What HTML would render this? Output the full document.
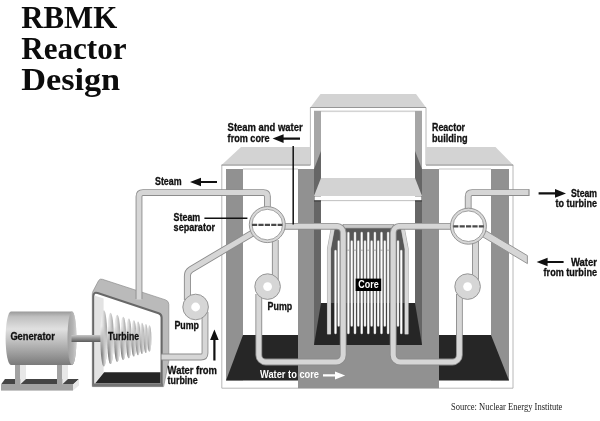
<!DOCTYPE html>
<html lang="en">
<head>
<meta charset="utf-8">
<title>RBMK Reactor Design</title>
<style>
html,body{margin:0;padding:0;background:#fff;}
body{width:600px;height:421px;overflow:hidden;}
svg{display:block;will-change:transform;}
.lbl{font-family:"Liberation Sans","DejaVu Sans",sans-serif;font-weight:bold;font-size:10.3px;fill:#111;stroke:#111;stroke-width:0.3px;}
.ttl{font-family:"Liberation Serif","DejaVu Serif",serif;font-weight:bold;font-size:31.4px;fill:#0c0c0c;}
.src{font-family:"Liberation Serif","DejaVu Serif",serif;font-size:10px;fill:#222;}
.po{fill:none;stroke:#8c8c8c;stroke-width:6.8;stroke-linejoin:round;}
.pi{fill:none;stroke:#d6d6d6;stroke-width:5;stroke-linejoin:round;}
</style>
</head>
<body>
<svg width="600" height="421" viewBox="0 0 600 421">
<defs>
<linearGradient id="gen" x1="0" y1="0" x2="0" y2="1">
<stop offset="0" stop-color="#989898"/>
<stop offset="0.1" stop-color="#c0c0c0"/>
<stop offset="0.33" stop-color="#e0e0e0"/>
<stop offset="0.5" stop-color="#c8c8c8"/>
<stop offset="0.75" stop-color="#a2a2a2"/>
<stop offset="1" stop-color="#7a7a7a"/>
</linearGradient>
<linearGradient id="genf" x1="0" y1="0" x2="1" y2="0">
<stop offset="0" stop-color="#a0a0a0"/>
<stop offset="0.6" stop-color="#b4b4b4"/>
<stop offset="1" stop-color="#d0d0d0"/>
</linearGradient>
<linearGradient id="shaft" x1="0" y1="0" x2="0" y2="1">
<stop offset="0" stop-color="#c8c8c8"/>
<stop offset="0.4" stop-color="#9a9a9a"/>
<stop offset="1" stop-color="#5a5a5a"/>
</linearGradient>
<linearGradient id="disc" x1="0" y1="0" x2="1" y2="0">
<stop offset="0" stop-color="#f6f6f6"/>
<stop offset="0.4" stop-color="#dedede"/>
<stop offset="0.8" stop-color="#b0b0b0"/>
<stop offset="1" stop-color="#a0a0a0"/>
</linearGradient>
<linearGradient id="disc2" x1="0" y1="0" x2="1" y2="0">
<stop offset="0" stop-color="#787878"/>
<stop offset="0.3" stop-color="#8c8c8c"/>
<stop offset="0.65" stop-color="#d0d0d0"/>
<stop offset="1" stop-color="#fafafa"/>
</linearGradient>
<linearGradient id="dmg" gradientUnits="userSpaceOnUse" x1="0" y1="326" x2="0" y2="354">
<stop offset="0" stop-color="#000"/>
<stop offset="1" stop-color="#fff"/>
</linearGradient>
<mask id="dmask" maskUnits="userSpaceOnUse" x="95" y="300" width="70" height="80">
<rect x="95" y="300" width="70" height="80" fill="url(#dmg)"/>
</mask>
</defs>
<rect width="600" height="421" fill="#fff"/>

<!-- ===== TITLE ===== -->
<g id="title">
<text class="ttl" x="21.2" y="28.2" textLength="96" lengthAdjust="spacingAndGlyphs">RBMK</text>
<text class="ttl" x="21.2" y="59.2" textLength="105.4" lengthAdjust="spacingAndGlyphs">Reactor</text>
<text class="ttl" x="21.2" y="89.6" textLength="99" lengthAdjust="spacingAndGlyphs">Design</text>
</g>

<!-- ===== BUILDING ===== -->
<g id="building">
<!-- white walls with thin outline -->
<path d="M221.8,165 H310.4 V107.5 H426 V165 H513 V388.2 H221.8 Z" fill="#fff" stroke="#a6a6a6" stroke-width="0.8"/>
<path d="M243,169 H298 M439,169 H491" stroke="#b4b4b4" stroke-width="0.8" fill="none"/>
<!-- left wing -->
<rect x="226" y="169" width="17" height="211.4" fill="#919191"/>
<polygon points="243,335 298,335 298,380.4 226,380.4" fill="#262626"/>
<!-- right wing -->
<rect x="491" y="169" width="18" height="211.4" fill="#919191"/>
<polygon points="439,335 491,335 509,380.4 439,380.4" fill="#262626"/>
<!-- centre front wall -->
<rect x="298" y="169" width="141" height="219.2" fill="#919191"/>
<!-- centre interior -->
<rect x="314" y="111" width="108" height="234" fill="#fff"/>
<rect x="314" y="110.5" width="108" height="1.6" fill="#d4d4d4"/>
<!-- centre side walls -->
<rect x="314" y="111" width="7" height="234" fill="#a6a6a6"/>
<rect x="415" y="111" width="7" height="234" fill="#a6a6a6"/>
<polygon points="321,151 321,345 314,345 314,169" fill="#666"/>
<polygon points="415,151 415,345 422,345 422,169" fill="#666"/>
<!-- centre floor -->
<polygon points="321,303 415,303 422,345 314,345" fill="#262626"/>
<!-- shelf -->
<polygon points="321,178 415,178 422,196 314,196" fill="#d3d3d3"/>
<rect x="314.6" y="196.4" width="106.8" height="4" fill="#fff"/>
<rect x="321" y="200.3" width="94" height="0.8" fill="#b0b0b0"/><rect x="314" y="200.4" width="7" height="1.1" fill="#3c3c3c"/><rect x="415" y="200.4" width="7" height="1.1" fill="#3c3c3c"/>
<!-- roofs -->
<polygon points="320.5,94 416,94 426,107.5 310.4,107.5" fill="#d3d3d3"/>
<polygon points="241,147 310.4,147 310.4,165 221.6,165" fill="#d3d3d3"/>
<polygon points="426,147 495.5,147 513.2,165 426,165" fill="#d3d3d3"/>
<path d="M310.4,107.5 H426 M221.6,165 H310.4 M426,165 H513.2" stroke="#8a8a8a" stroke-width="0.8" fill="none"/>
</g>

<!-- ===== CORE ===== -->
<g id="core">
<polygon points="332,228 404,228 408,248 408,303 328,303 328,248" fill="#575757"/>
<rect x="328" y="303" width="80" height="31" fill="#262626"/>
<rect x="343" y="224.3" width="51" height="3.8" fill="#c8c8c8" stroke="#888" stroke-width="0.6"/>
<!-- side panels -->
<path d="M332.7,229 L329,249 V334.3" fill="none" stroke="#a8a8a8" stroke-width="4.1"/>
<path d="M402.9,229 L406.6,249 V334.3" fill="none" stroke="#a8a8a8" stroke-width="4.1"/>
<path d="M332.8,229 L329.1,249 V334.3" fill="none" stroke="#d8d8d8" stroke-width="3.2"/>
<path d="M402.8,229 L406.5,249 V334.3" fill="none" stroke="#d8d8d8" stroke-width="3.2"/>
<g id="rods" fill="none" stroke-linecap="round">
<path d="M348.4,233V333 M355,233V333 M361.7,233V333 M368.3,233V333 M374.9,233V333 M381.5,233V333 M388.1,233V333 M351.7,241.5V325.5 M358.3,241.5V325.5 M365,241.5V325.5 M371.6,241.5V325.5 M378.2,241.5V325.5 M384.8,241.5V325.5 M335.5,251V333 M338.7,241.5V325.5 M398,241.5V325.5 M401.3,251V333" stroke="#b4b4b4" stroke-width="2.5"/>
<path d="M348.4,233V333 M355,233V333 M361.7,233V333 M368.3,233V333 M374.9,233V333 M381.5,233V333 M388.1,233V333 M351.7,241.5V325.5 M358.3,241.5V325.5 M365,241.5V325.5 M371.6,241.5V325.5 M378.2,241.5V325.5 M384.8,241.5V325.5 M335.5,251V333 M338.7,241.5V325.5 M398,241.5V325.5 M401.3,251V333" stroke="#fff" stroke-width="1.5"/>
<path d="M347,250.2H349.8 M353.6,250.2H356.4 M360.3,250.2H363.1 M366.9,250.2H369.7 M373.5,250.2H376.3 M380.1,250.2H382.9 M386.7,250.2H389.5" stroke="#a0a0a0" stroke-width="0.8" stroke-linecap="butt"/>
</g>
<rect x="355.6" y="278.6" width="25.6" height="12.4" fill="#000"/>
<text class="lbl" x="358.3" y="288.3" style="fill:#fff;stroke:none" textLength="20.4" lengthAdjust="spacingAndGlyphs">Core</text>
</g>

<!-- ===== TURBINE ===== -->
<g id="turbine">
<path d="M92.3,386.6 V294 Q92.3,292.6 93,291.2 L98.6,280.6 Q99.8,278.4 102.4,279.3 L165.6,299.9 Q168.8,301 168.8,304.4 V361 L163.6,386.6 Z" fill="#bababa" stroke="#8e8e8e" stroke-width="0.7"/>
<path d="M93.4,385 V296.2 Q93.4,291.8 97.6,293.1 L158.6,313.2 Q161.6,314.2 161.6,317.4 V385 Z" fill="#fff" stroke="#686868" stroke-width="2.1" stroke-linejoin="round"/>
<polygon points="94.5,295.4 103.6,298.4 103.6,372.4 94.5,383.6" fill="#e3e3e3"/>
<polygon points="104.2,372.3 160.5,372.3 160.5,383.6 95,383.6" fill="#262626"/>
<rect x="92.4" y="383.6" width="70.6" height="3" fill="#747474"/>
<g id="discs">
<ellipse cx="103.8" cy="338.4" rx="3.50" ry="28.2" fill="url(#disc)"/>
<ellipse cx="110.5" cy="338.4" rx="3.33" ry="25.7" fill="url(#disc)"/>
<ellipse cx="117.2" cy="338.4" rx="3.17" ry="23.7" fill="url(#disc)"/>
<ellipse cx="123.2" cy="338.4" rx="3.00" ry="21.7" fill="url(#disc)"/>
<ellipse cx="128.8" cy="338.4" rx="2.83" ry="19.9" fill="url(#disc)"/>
<ellipse cx="133.8" cy="338.4" rx="2.67" ry="18.2" fill="url(#disc)"/>
<ellipse cx="138.0" cy="338.4" rx="2.50" ry="16.9" fill="url(#disc)"/>
<ellipse cx="142.0" cy="338.4" rx="2.33" ry="15.7" fill="url(#disc)"/>
<ellipse cx="145.8" cy="338.4" rx="2.17" ry="14.5" fill="url(#disc)"/>
<ellipse cx="149.4" cy="338.4" rx="2.00" ry="13.2" fill="url(#disc)"/>
<g mask="url(#dmask)">
<ellipse cx="103.8" cy="338.4" rx="3.50" ry="28.2" fill="url(#disc2)"/>
<ellipse cx="110.5" cy="338.4" rx="3.33" ry="25.7" fill="url(#disc2)"/>
<ellipse cx="117.2" cy="338.4" rx="3.17" ry="23.7" fill="url(#disc2)"/>
<ellipse cx="123.2" cy="338.4" rx="3.00" ry="21.7" fill="url(#disc2)"/>
<ellipse cx="128.8" cy="338.4" rx="2.83" ry="19.9" fill="url(#disc2)"/>
<ellipse cx="133.8" cy="338.4" rx="2.67" ry="18.2" fill="url(#disc2)"/>
<ellipse cx="138.0" cy="338.4" rx="2.50" ry="16.9" fill="url(#disc2)"/>
<ellipse cx="142.0" cy="338.4" rx="2.33" ry="15.7" fill="url(#disc2)"/>
<ellipse cx="145.8" cy="338.4" rx="2.17" ry="14.5" fill="url(#disc2)"/>
<ellipse cx="149.4" cy="338.4" rx="2.00" ry="13.2" fill="url(#disc2)"/>
</g>
</g>
</g>

<!-- ===== GENERATOR ===== -->
<g id="generator">
<!-- base -->
<polygon points="5,379 79,379 73,384.4 1,384.4" fill="#444"/>
<rect x="1" y="384.4" width="72" height="6.2" fill="#a2a2a2"/>
<polygon points="73,384.4 79,379 79,385.4 73,390.6" fill="#e8e8e8"/>
<!-- legs -->
<rect x="15" y="364" width="5.2" height="20.4" fill="#a2a2a2"/>
<polygon points="20.2,364 26,364 26,379 20.2,384.4" fill="#e8e8e8"/>
<rect x="57" y="364" width="5.2" height="20.4" fill="#a2a2a2"/>
<polygon points="62.2,364 68,364 68,379 62.2,384.4" fill="#e8e8e8"/>
<!-- body -->
<path d="M11,311.4 H72 A4.5,26.8 0 0 1 72,365 H11 A5.4,26.8 0 0 1 11,311.4 Z" fill="url(#gen)"/>
<ellipse cx="72" cy="338.2" rx="4.5" ry="26.8" fill="url(#genf)"/>
<rect x="71.5" y="335" width="29" height="7" fill="url(#shaft)"/>
<text class="lbl" x="10.4" y="340.2" textLength="44.4" lengthAdjust="spacingAndGlyphs">Generator</text>
</g>

<!-- ===== PIPES ===== -->
<g id="pipes">

<!-- steam pipe to turbine -->
<path class="po" d="M267.4,212 V196.6 Q267.4,192.6 263.4,192.6 H143 Q139,192.6 139,196.6 V299"/>
<path class="pi" d="M267.4,212 V196.6 Q267.4,192.6 263.4,192.6 H143 Q139,192.6 139,196.6 V299.6" />
<!-- right steam pipe -->
<path class="po" d="M468.2,212 V196.6 Q468.2,192.6 472.2,192.6 H529.2" stroke-linecap="butt"/>
<path class="pi" d="M468.2,212 V196.6 Q468.2,192.6 472.2,192.6 H528.7"/>
<rect x="528.6" y="189.2" width="0.9" height="6.8" fill="#8c8c8c"/>
<!-- diagonal left: separator to left pump -->
<path class="po" d="M254,232.2 L191,269.4 Q187.4,271.6 187.4,276 V300" style="stroke-width:7"/>
<path class="pi" d="M254,232.2 L191,269.4 Q187.4,271.6 187.4,276 V300" style="stroke-width:5.2"/>
<!-- left pump to turbine -->
<path class="po" d="M205,312 V353 Q205,357 201,357 H161.5"/>
<path class="pi" d="M205,312 V353 Q205,357 201,357 H161.5"/>
<!-- diagonal right: water from turbine -->
<polygon points="481,227.8 527.4,255.6 527.4,263.6 481,235.8" fill="#d6d6d6" stroke="#8c8c8c" stroke-width="0.9"/>
<!-- left loop -->
<path class="po" d="M275.3,240 V280 M258.8,294 V355 A7,7 0 0 0 265.8,362 H336.2 A7,7 0 0 0 343.2,355 V232.8 A6.5,6.5 0 0 0 336.7,226.3 H283"/>
<path class="pi" d="M275.3,240 V280 M258.8,294 V355 A7,7 0 0 0 265.8,362 H336.2 A7,7 0 0 0 343.2,355 V232.8 A6.5,6.5 0 0 0 336.7,226.3 H283"/>
<!-- right loop -->
<path class="po" d="M475.5,240 V280 M459.4,294 V355 A7,7 0 0 1 452.4,362 H400.2 A7,7 0 0 1 393.2,355 V232.8 A6.5,6.5 0 0 1 399.7,226.3 H452"/>
<path class="pi" d="M475.5,240 V280 M459.4,294 V355 A7,7 0 0 1 452.4,362 H400.2 A7,7 0 0 1 393.2,355 V232.8 A6.5,6.5 0 0 1 399.7,226.3 H452"/>
<!-- separators -->
<g id="sepL">
<circle cx="267.3" cy="224.6" r="18" fill="#d8d8d8" stroke="#8c8c8c" stroke-width="0.9"/>
<circle cx="267.3" cy="224.6" r="15.3" fill="#fff" stroke="#8c8c8c" stroke-width="0.8"/>
<path d="M252,224.8 H282.4" stroke="#4a4a4a" stroke-width="2.3" stroke-dasharray="5.2 1.2"/>
</g>
<g id="sepR">
<circle cx="468.4" cy="226.2" r="18" fill="#d8d8d8" stroke="#8c8c8c" stroke-width="0.9"/>
<circle cx="468.4" cy="226.2" r="15.3" fill="#fff" stroke="#8c8c8c" stroke-width="0.8"/>
<path d="M453.2,226.3 H483.8" stroke="#4a4a4a" stroke-width="2.3" stroke-dasharray="5.2 1.2"/>
</g>
<!-- pumps -->
<g id="pumps">
<circle cx="195.6" cy="307" r="12.8" fill="#d6d6d6" stroke="#8c8c8c" stroke-width="0.9"/>
<circle cx="195.6" cy="307" r="4.4" fill="#fff"/>
<circle cx="267.6" cy="286.6" r="12.8" fill="#d6d6d6" stroke="#8c8c8c" stroke-width="0.9"/>
<circle cx="267.6" cy="286.6" r="4.4" fill="#fff"/>
<circle cx="467.6" cy="286.6" r="12.8" fill="#d6d6d6" stroke="#8c8c8c" stroke-width="0.9"/>
<circle cx="467.6" cy="286.6" r="4.4" fill="#fff"/>
</g>
<!-- pointer lines -->
<path d="M293.2,146 V224.6" stroke="#111" stroke-width="1.5" fill="none"/>
<path d="M204.4,218.3 H247.4" stroke="#111" stroke-width="1.4" fill="none"/>
<!-- arrows -->
<g id="arrows" fill="#111" stroke="none">
<path d="M190,182 L201,177.7 V180.9 H217 V183.1 H201 V186.3 Z"/>
<path d="M272.6,138.6 L283.6,134.3 V137.5 H300 V139.7 H283.6 V142.9 Z"/>
<path d="M566,193.4 L555,189.1 V192.3 H538.6 V194.5 H555 V197.7 Z"/>
<path d="M536.6,262 L547.6,257.7 V260.9 H563.6 V263.1 H547.6 V266.3 Z"/>
<path d="M214.4,329.6 L218.7,340 H215.5 V360.5 H213.3 V340 H210.1 Z"/>
<path d="M345.2,375.4 L335,371.4 V374.3 H323 V376.5 H335 V379.4 Z" fill="#fff"/>
</g>
<!-- labels -->
<g id="labels">
<text class="lbl" x="155" y="184.6" textLength="26.6" lengthAdjust="spacingAndGlyphs">Steam</text>
<text class="lbl" x="173.6" y="220.8" textLength="26.6" lengthAdjust="spacingAndGlyphs">Steam</text>
<text class="lbl" x="173.6" y="231.2" textLength="41.4" lengthAdjust="spacingAndGlyphs">separator</text>
<text class="lbl" x="227.6" y="131.4" textLength="75" lengthAdjust="spacingAndGlyphs">Steam and water</text>
<text class="lbl" x="227.6" y="141.6" textLength="42" lengthAdjust="spacingAndGlyphs">from core</text>
<text class="lbl" x="432" y="131.4" textLength="33" lengthAdjust="spacingAndGlyphs">Reactor</text>
<text class="lbl" x="432" y="141.6" textLength="35.6" lengthAdjust="spacingAndGlyphs">building</text>
<text class="lbl" x="571" y="197" textLength="26" lengthAdjust="spacingAndGlyphs">Steam</text>
<text class="lbl" x="555.6" y="207.2" textLength="41.4" lengthAdjust="spacingAndGlyphs">to turbine</text>
<text class="lbl" x="571" y="266" textLength="26" lengthAdjust="spacingAndGlyphs">Water</text>
<text class="lbl" x="543.6" y="276.2" textLength="53.4" lengthAdjust="spacingAndGlyphs">from turbine</text>
<text class="lbl" x="174.4" y="328.6" textLength="24.6" lengthAdjust="spacingAndGlyphs">Pump</text>
<text class="lbl" x="267.6" y="310" textLength="24.6" lengthAdjust="spacingAndGlyphs">Pump</text>
<text class="lbl" x="167.6" y="373.6" textLength="49.4" lengthAdjust="spacingAndGlyphs">Water from</text>
<text class="lbl" x="167.6" y="384" textLength="30" lengthAdjust="spacingAndGlyphs">turbine</text>
<text class="lbl" x="260" y="377.6" style="fill:#fff;stroke:none" textLength="59" lengthAdjust="spacingAndGlyphs">Water to core</text>
<text class="lbl" x="108" y="340.2" textLength="31" lengthAdjust="spacingAndGlyphs">Turbine</text>
</g>

</g>

<text class="src" x="451" y="410" textLength="111.4" lengthAdjust="spacingAndGlyphs">Source: Nuclear Energy Institute</text>
</svg>
</body>
</html>
